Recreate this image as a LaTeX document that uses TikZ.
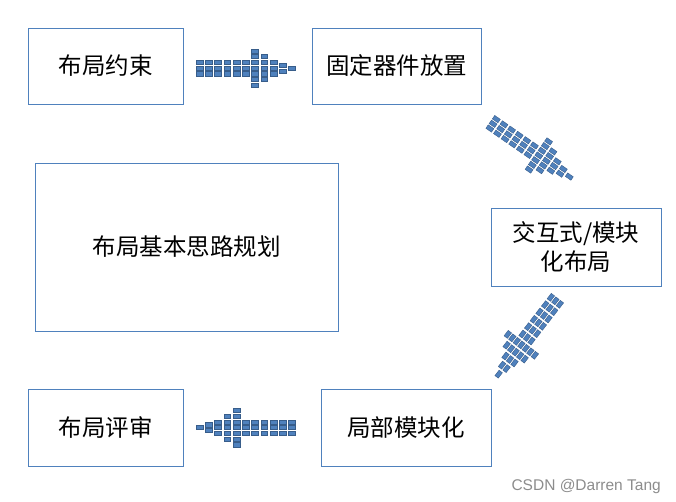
\documentclass[tikz,border=0pt]{standalone}
\usepackage{fontspec}
\newfontfamily\cjk{Noto Sans CJK SC}
\setsansfont{Liberation Sans}
\usetikzlibrary{calc}
\definecolor{boxblue}{RGB}{79,129,189}
\definecolor{sqfill}{RGB}{79,129,189}
\definecolor{sqline}{RGB}{56,93,138}
\tikzset{
  blockarrow/.pic={
    % shaft: 6 columns of 3 tiles
    \foreach \i in {0,...,5}
      \foreach \r in {-1,0,1}
        \draw[tile] ({(\i-5)*9.27-3.4},{\r*5.7-2.1}) rectangle ++(6.8,4.2);
    % head
    \foreach \i/\rows in {6/{-3,-2,-1,0,1,2,3}, 7/{-2,-1,0,1,2}, 8/{-1,0,1}, 9/{-0.5,0.5}, 10/{0}}
      \foreach \r in \rows
        \draw[tile] ({(\i-5)*9.27-3.4},{\r*5.7-2.1}) rectangle ++(6.8,4.2);
  }
}
\begin{document}
\begin{tikzpicture}[x=1pt, y=-1pt,
  stepbox/.style={draw=boxblue, line width=0.8pt, fill=white, font=\cjk\fontsize{23.5}{29}\selectfont, align=center, inner sep=0pt},
  tile/.style={fill=sqfill, draw=sqline, line width=0.4pt}]
\useasboundingbox (0,0) rectangle (676,502);
\node[stepbox, minimum width=155pt, minimum height=76pt] (yueshu) at (105.5,66) {布局约束};
\node[stepbox, minimum width=169pt, minimum height=76pt] (guding) at (396.5,66) {固定器件放置};
\node[stepbox, minimum width=170pt, minimum height=78pt] (jiaohu) at (576,247) {交互式/模块\\化布局};
\node[stepbox, minimum width=303pt, minimum height=168pt] (silu) at (186.5,247) {布局基本思路规划};
\node[stepbox, minimum width=155pt, minimum height=77pt] (pingshen) at (105.5,427.5) {布局评审};
\node[stepbox, minimum width=170pt, minimum height=77pt] (jubu) at (406,427.5) {局部模块化};
% block arrows between the steps
\pic at ($(yueshu.east)!0.5!(guding.west)+(-1.8,2)$) {blockarrow};
\pic[rotate=-34.7] at ($(guding.south east)!0.5!(jiaohu.north)+(2.5,-5.8)$) {blockarrow};
\pic[rotate=-127.7] at ($(jiaohu.south)!0.5!(jubu.north east)+(-6.7,0)$) {blockarrow};
\pic[rotate=180] at ($(jubu.west)!0.5!(pingshen.east)+(-6.3,0)$) {blockarrow};
\node[anchor=base east, font=\sffamily\fontsize{15.5}{18}\selectfont, text=black!45, inner sep=0pt] (mark) at (661,490) {CSDN @Darren Tang};
\end{tikzpicture}
\end{document}
